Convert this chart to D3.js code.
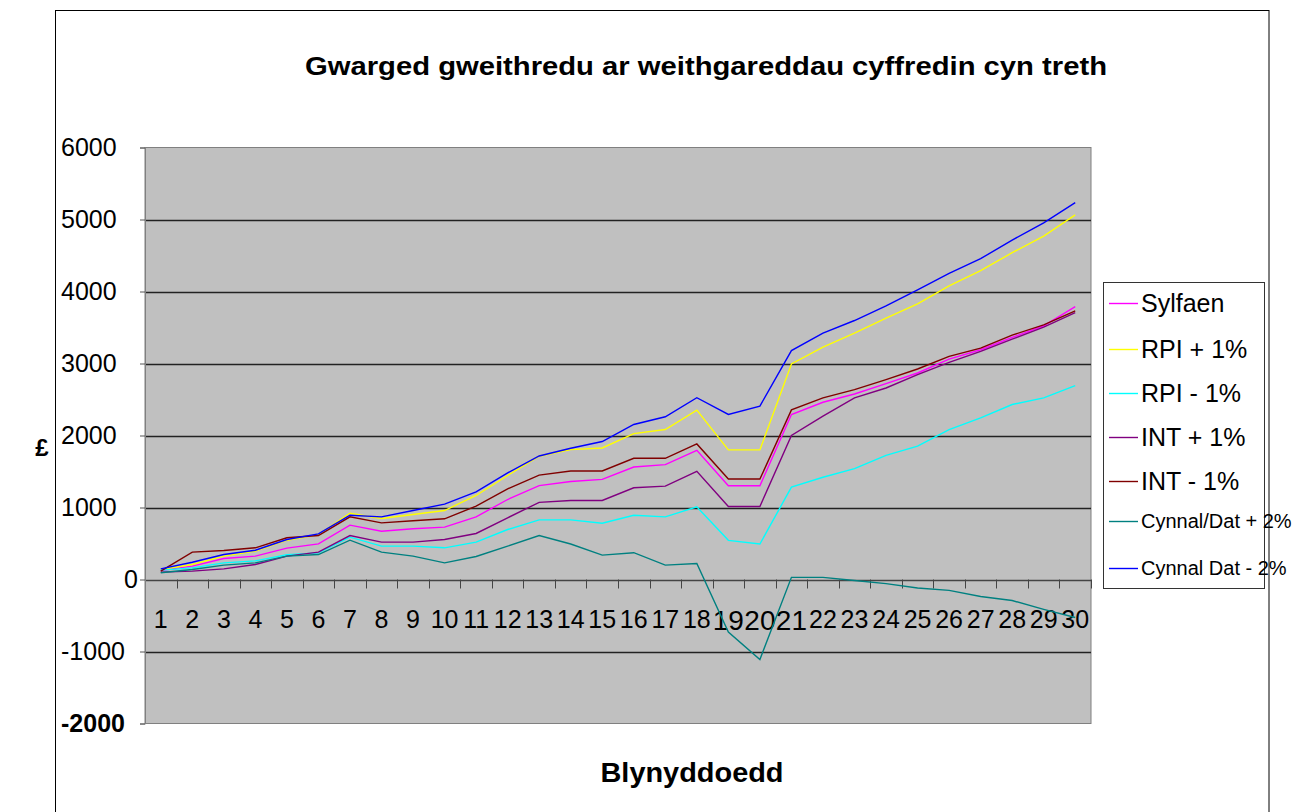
<!DOCTYPE html>
<html>
<head>
<meta charset="utf-8">
<script src="https://cdn.jsdelivr.net/npm/d3@7"></script>
<style>
  body { margin: 0; background: #fff; }
  svg { display: block; font-family: Arial, "Liberation Sans", sans-serif; }
</style>
</head>
<body>
<div id="chart"></div>
<script>
// years 1..30
const years = d3.range(1, 31)
const yTicks = [-2000, -1000, 0, 1000, 2000, 3000, 4000, 5000, 6000]

const seriesNames = ['Sylfaen', 'RPI + 1%', 'RPI - 1%', 'INT + 1%', 'INT - 1%', 'Cynnal/Dat + 2%', 'Cynnal Dat - 2%']
const seriesColors = ['#ff00ff', '#ffff00', '#00ffff', '#800080', '#800000', '#008080', '#0000ff']

const sylfaen = [125, 185, 292, 324, 435, 495, 755, 671, 704, 727, 870, 1111, 1304, 1362, 1390, 1562, 1595, 1795, 1302, 1302, 2291, 2462, 2577, 2720, 2868, 3062, 3191, 3362, 3523, 3791]
const rpiPlus = [139, 208, 324, 394, 546, 625, 921, 847, 903, 958, 1167, 1444, 1712, 1804, 1827, 2027, 2083, 2353, 1800, 1800, 2993, 3228, 3422, 3629, 3828, 4077, 4289, 4539, 4769, 5065]
const rpiMinus = [130, 162, 231, 259, 343, 370, 588, 463, 463, 440, 519, 694, 828, 828, 781, 893, 870, 1009, 544, 493, 1283, 1420, 1539, 1724, 1853, 2083, 2245, 2430, 2522, 2693]
const intPlus = [102, 116, 148, 208, 324, 380, 611, 519, 519, 556, 639, 857, 1072, 1097, 1097, 1274, 1297, 1502, 1014, 1014, 2000, 2268, 2522, 2660, 2845, 3016, 3168, 3339, 3505, 3708]
const intMinus = [116, 380, 403, 440, 579, 611, 870, 787, 815, 843, 1019, 1259, 1450, 1507, 1507, 1683, 1683, 1883, 1395, 1395, 2356, 2522, 2637, 2776, 2924, 3099, 3214, 3394, 3537, 3731]
const cynnalPlus = [93, 139, 199, 231, 324, 347, 546, 380, 324, 231, 319, 463, 610, 493, 339, 372, 200, 223, -730, -1111, 30, 30, -14, -57, -118, -151, -236, -292, -415, -528]
const cynnalMinus = [148, 240, 347, 407, 556, 634, 893, 870, 958, 1046, 1218, 1481, 1716, 1823, 1916, 2153, 2260, 2525, 2292, 2409, 3180, 3422, 3597, 3800, 4022, 4252, 4456, 4714, 4954, 5235]

const allSeries = [sylfaen, rpiPlus, rpiMinus, intPlus, intMinus, cynnalPlus, cynnalMinus]

const width = 1314
const height = 812
const plot = {left: 145, right: 1091, top: 147.5, bottom: 723.5}

const svg = d3.select('#chart').append('svg')
  .attr('width', width)
  .attr('height', height)

// outer frame
svg.append('rect')
  .attr('x', 55.5).attr('y', 10.5)
  .attr('width', 1213.5).attr('height', 820)
  .attr('fill', 'none')
  .attr('stroke', '#000')

const x = d3.scaleBand()
  .domain(years)
  .range([plot.left, plot.right])
const y = d3.scaleLinear()
  .domain([-2000, 6000])
  .range([plot.bottom, plot.top])

const cx = d => x(d) + x.bandwidth() / 2

// plot background
svg.append('rect')
  .attr('x', plot.left).attr('y', plot.top)
  .attr('width', plot.right - plot.left).attr('height', plot.bottom - plot.top)
  .attr('fill', '#c0c0c0')
  .attr('stroke', '#808080')

// grid lines
svg.append('g').classed('grid', true)
  .selectAll('line')
  .data(yTicks.filter(t => t !== -2000 && t !== 6000))
  .enter().append('line')
  .attr('x1', plot.left).attr('x2', plot.right)
  .attr('y1', d => Math.round(y(d)) + 0.5)
  .attr('y2', d => Math.round(y(d)) + 0.5)
  .attr('stroke', d => d === 0 ? '#444' : '#222')
  .attr('stroke-width', 1.3)

// y axis (labels sit oddly in the original: most start at the same x, "0" hugs the axis)
const yAxis = svg.append('g')
  .attr('transform', `translate(${plot.left},0)`)
  .call(d3.axisLeft(y).tickValues(yTicks).tickSize(5).tickFormat(d => String(d)))
yAxis.select('.domain').attr('stroke', '#808080')
yAxis.selectAll('.tick line').attr('stroke', '#555')
yAxis.selectAll('.tick text')
  .attr('font-size', 25)
  .attr('fill', '#000')
  .attr('text-anchor', d => d === 0 ? 'end' : 'start')
  .attr('x', d => d === 0 ? -7 : -84)
  .attr('font-weight', d => d === -2000 ? 'bold' : 'normal')

// x axis along zero line, labels drawn inside plot
const xAxis = svg.append('g')
  .attr('transform', `translate(0,${Math.round(y(0)) + 0.5})`)
  .call(d3.axisBottom(x).tickSize(0).tickPadding(30))
xAxis.select('.domain').remove()
xAxis.selectAll('.tick text')
  .attr('font-size', d => (d >= 19 && d <= 21) ? 28 : 25)
  .attr('fill', '#000')

// x tick marks at band edges
svg.append('g').classed('xticks', true)
  .selectAll('line')
  .data(years.slice(1).concat([31]))
  .enter().append('line')
  .attr('x1', d => Math.round(plot.left + (d - 1) * x.step()) + 0.5)
  .attr('x2', d => Math.round(plot.left + (d - 1) * x.step()) + 0.5)
  .attr('y1', y(0)).attr('y2', y(0) + 9)
  .attr('stroke', '#444')

// series lines
const line = d3.line()
  .x((d, i) => cx(years[i]))
  .y(d => y(d))

svg.append('g').classed('series', true)
  .selectAll('path')
  .data(allSeries)
  .enter().append('path')
  .attr('d', line)
  .attr('fill', 'none')
  .attr('stroke', (d, i) => seriesColors[i])
  .attr('stroke-width', 1.4)

// titles
svg.append('text')
  .attr('x', 706).attr('y', 75)
  .attr('text-anchor', 'middle')
  .attr('font-size', 26).attr('font-weight', 'bold')
  .attr('textLength', 802).attr('lengthAdjust', 'spacingAndGlyphs')
  .text('Gwarged gweithredu ar weithgareddau cyffredin cyn treth')

svg.append('text')
  .attr('x', 692).attr('y', 782)
  .attr('text-anchor', 'middle')
  .attr('font-size', 28).attr('font-weight', 'bold')
  .attr('textLength', 183).attr('lengthAdjust', 'spacingAndGlyphs')
  .text('Blynyddoedd')

svg.append('text')
  .attr('x', 42).attr('y', 456)
  .attr('text-anchor', 'middle')
  .attr('font-size', 24).attr('font-weight', 'bold')
  .text('£')

// legend
const legend = svg.append('g').classed('legend', true)
legend.append('rect')
  .attr('x', 1103.5).attr('y', 282.5)
  .attr('width', 161).attr('height', 306)
  .attr('fill', '#fff')
  .attr('stroke', '#333')

const legendY = [303, 349, 393, 437, 481, 521, 568]
const items = legend.selectAll('g.item')
  .data(seriesNames)
  .enter().append('g').classed('item', true)
  .attr('transform', (d, i) => `translate(0,${legendY[i]})`)
items.append('line')
  .attr('x1', 1109).attr('x2', 1138)
  .attr('y1', 0.5).attr('y2', 0.5)
  .attr('stroke', (d, i) => seriesColors[i])
  .attr('stroke-width', 1.4)
items.append('text')
  .attr('x', 1141)
  .attr('dy', '0.35em')
  .attr('font-size', (d, i) => i >= 5 ? 20 : 25)
  .text(d => d)
</script>
</body>
</html>
